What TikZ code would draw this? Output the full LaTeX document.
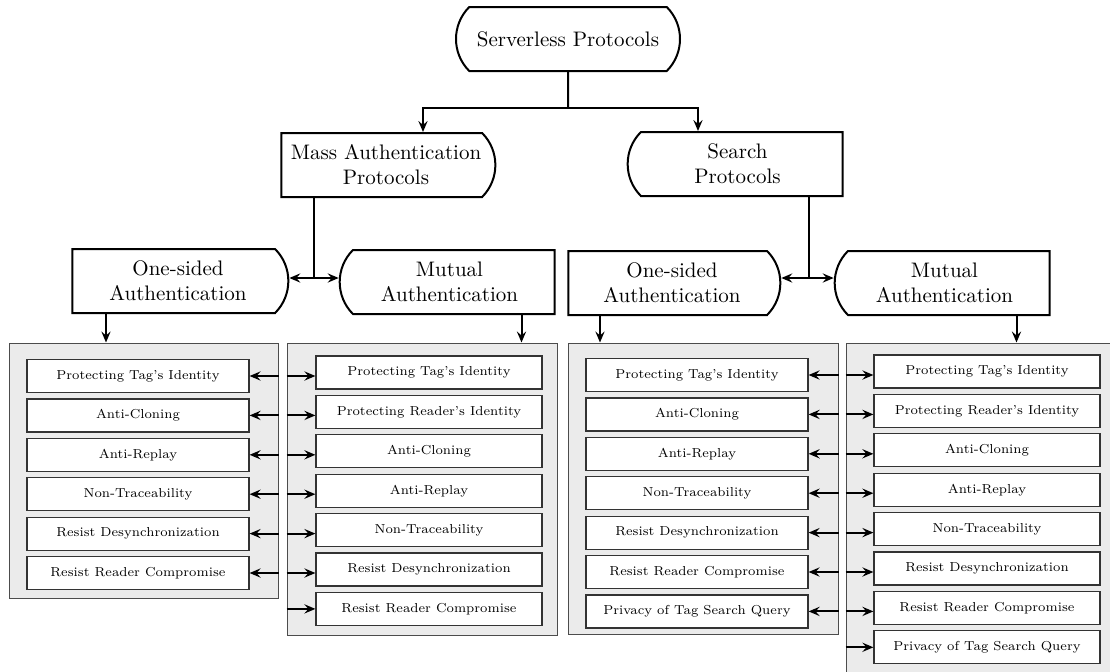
\documentclass[tikz,border=0pt]{standalone}
\usepackage{amsmath}
\usepackage{tikz}
\usetikzlibrary{arrows.meta,shapes.misc}

\begin{document}
\begin{tikzpicture}[->, >={Stealth[length=5.5pt,width=4.6pt,inset=2pt]}, line width=1pt, x=0.5pt, y=-0.5pt, node distance=19.7pt]
\tikzstyle{head}=[draw=black,line width=1pt,fill=white,rounded rectangle,rounded rectangle arc length=90,minimum height=32pt,inner sep=0pt,align=center,font=\fontsize{10.5}{12.5}\selectfont]
\tikzstyle{lhead}=[head,rounded rectangle west arc=none]
\tikzstyle{rhead}=[head,rounded rectangle east arc=none]
\tikzstyle{panel}=[draw=black!70,fill=black!8,line width=0.5pt,inner sep=0pt]
\tikzstyle{item}=[draw=black!80,fill=white,line width=0.6pt,minimum height=16.5pt,inner sep=0pt,font=\fontsize{6.5}{8}\selectfont]
\tikzstyle{litem}=[item,minimum width=111pt]
\tikzstyle{ritem}=[item,minimum width=113pt]
\useasboundingbox (0,0) rectangle (1110,671);

\node[head, minimum width=112pt]    (SP) at (568,39)    {Serverless Protocols};
\node[lhead, minimum width=107pt]   (MA) at (386,165)   {Mass Authentication\\Protocols};
\node[rhead, minimum width=107.5pt] (SR) at (737.5,164) {Search\\Protocols};
\node[lhead, minimum width=108pt]   (O1) at (178,281)   {One-sided\\Authentication};
\node[rhead, minimum width=107.5pt] (M1) at (449.5,282) {Mutual\\Authentication};
\node[lhead, minimum width=106pt]   (O2) at (672,283)   {One-sided\\Authentication};
\node[rhead, minimum width=107.5pt] (M2) at (944.5,283) {Mutual\\Authentication};

% grey panels
\node[panel, minimum width=134.5pt, minimum height=127.5pt] (P1) at (143.5,470.5) {};
\node[panel, minimum width=135pt, minimum height=146pt]     (P2) at (422,489)     {};
\node[panel, minimum width=135pt, minimum height=145.5pt]   (P3) at (703,488.5)   {};
\node[panel, minimum width=137pt, minimum height=173.5pt]   (P4) at (983,516.5)   {};

% mass, one-sided
\node[litem] (A1) at (138,376) {Protecting Tag's Identity};
\node[litem] (A2) [below of=A1] {Anti-Cloning};
\node[litem] (A3) [below of=A2] {Anti-Replay};
\node[litem] (A4) [below of=A3] {Non-Traceability};
\node[litem] (A5) [below of=A4] {Resist Desynchronization};
\node[litem] (A6) [below of=A5] {Resist Reader Compromise};
% mass, mutual
\node[ritem] (B1) at (429,372.5) {Protecting Tag's Identity};
\node[ritem] (B2) [below of=B1] {Protecting Reader's Identity};
\node[ritem] (B3) [below of=B2] {Anti-Cloning};
\node[ritem] (B4) [below of=B3] {Anti-Replay};
\node[ritem] (B5) [below of=B4] {Non-Traceability};
\node[ritem] (B6) [below of=B5] {Resist Desynchronization};
\node[ritem] (B7) [below of=B6] {Resist Reader Compromise};
% search, one-sided
\node[litem] (C1) at (697,375) {Protecting Tag's Identity};
\node[litem] (C2) [below of=C1] {Anti-Cloning};
\node[litem] (C3) [below of=C2] {Anti-Replay};
\node[litem] (C4) [below of=C3] {Non-Traceability};
\node[litem] (C5) [below of=C4] {Resist Desynchronization};
\node[litem] (C6) [below of=C5] {Resist Reader Compromise};
\node[litem] (C7) [below of=C6] {Privacy of Tag Search Query};
% search, mutual
\node[ritem] (D1) at (987,371.5) {Protecting Tag's Identity};
\node[ritem] (D2) [below of=D1] {Protecting Reader's Identity};
\node[ritem] (D3) [below of=D2] {Anti-Cloning};
\node[ritem] (D4) [below of=D3] {Anti-Replay};
\node[ritem] (D5) [below of=D4] {Non-Traceability};
\node[ritem] (D6) [below of=D5] {Resist Desynchronization};
\node[ritem] (D7) [below of=D6] {Resist Reader Compromise};
\node[ritem] (D8) [below of=D7] {Privacy of Tag Search Query};

\coordinate (tj) at (568,108);
\coordinate (mj) at (314,278);
\coordinate (sj) at (809,278);
\coordinate (o1d) at ([xshift=-36pt]O1.south);
\coordinate (m1d) at ([xshift=36pt]M1.south);
\coordinate (o2d) at ([xshift=-36pt]O2.south);
\coordinate (m2d) at ([xshift=36pt]M2.south);

\draw[-] (SP) -- (tj);
\draw (tj) -| ([xshift=18.5pt]MA.north);
\draw (tj) -| ([xshift=-19.75pt]SR.north);
\draw[-] (MA.south -| mj) -- (mj);
\draw[-] (SR.south -| sj) -- (sj);
\path (mj) edge (O1.east |- mj)
           edge (M1.west |- mj)
      (sj) edge (O2.east |- sj)
           edge (M2.west |- sj);
\path (o1d) edge (o1d |- P1.north)
      (m1d) edge (m1d |- P2.north)
      (o2d) edge (o2d |- P3.north)
      (m2d) edge (m2d |- P4.north);

\path (P1.east |- A1) edge (A1.east)
      (P1.east |- A2) edge (A2.east)
      (P1.east |- A3) edge (A3.east)
      (P1.east |- A4) edge (A4.east)
      (P1.east |- A5) edge (A5.east)
      (P1.east |- A6) edge (A6.east)
      (P2.west |- A1) edge (B1.west |- A1)
      (P2.west |- A2) edge (B2.west |- A2)
      (P2.west |- A3) edge (B3.west |- A3)
      (P2.west |- A4) edge (B4.west |- A4)
      (P2.west |- A5) edge (B5.west |- A5)
      (P2.west |- A6) edge (B6.west |- A6)
      (P2.west |- B7) edge (B7.west);
\path (P3.east |- C1) edge (C1.east)
      (P3.east |- C2) edge (C2.east)
      (P3.east |- C3) edge (C3.east)
      (P3.east |- C4) edge (C4.east)
      (P3.east |- C5) edge (C5.east)
      (P3.east |- C6) edge (C6.east)
      (P3.east |- C7) edge (C7.east)
      (P4.west |- C1) edge (D1.west |- C1)
      (P4.west |- C2) edge (D2.west |- C2)
      (P4.west |- C3) edge (D3.west |- C3)
      (P4.west |- C4) edge (D4.west |- C4)
      (P4.west |- C5) edge (D5.west |- C5)
      (P4.west |- C6) edge (D6.west |- C6)
      (P4.west |- C7) edge (D7.west |- C7)
      (P4.west |- D8) edge (D8.west);
\end{tikzpicture}
\end{document}
